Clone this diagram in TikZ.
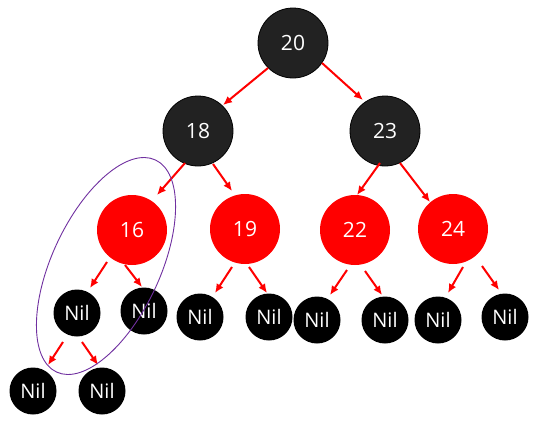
\documentclass[tikz,border=0pt]{standalone}
\usepackage{fontspec}
\setmainfont{Open Sans}
\usetikzlibrary{arrows.meta,calc}
\definecolor{blk}{HTML}{222222}
\definecolor{rd}{HTML}{FF0000}
\definecolor{purp}{HTML}{7030A0}
\tikzset{
  bnode/.style={circle,fill=blk,draw=black,line width=0.8pt,minimum size=70pt,inner sep=0pt,text=white,font=\fontsize{21}{24}\selectfont},
  rnode/.style={circle,fill=rd,minimum size=70pt,inner sep=0pt,text=white,font=\fontsize{21}{24}\selectfont},
  nilnode/.style={circle,fill=black,minimum size=47pt,inner sep=0pt,text=white,font=\fontsize{20}{24}\selectfont},
  arr/.style={draw=rd,line width=2pt,-{Latex[length=9pt,width=8pt]}},
}
\begin{document}
\begin{tikzpicture}[x=1pt,y=-1pt]
\useasboundingbox (0,0) rectangle (537,423);
\node[bnode] (n20) at (293,43) {20};
\node[bnode] (n18) at (198,131) {18};
\node[bnode] (n23) at (385,131) {23};
\node[rnode] (n16) at (132,230) {16};
\node[rnode] (n19) at (245,229) {19};
\node[rnode] (n22) at (355,230) {22};
\node[rnode] (n24) at (453,229) {24};
\node[nilnode] (a1) at (77,313) {Nil};
\node[nilnode] (a2) at (144,311) {Nil};
\node[nilnode] (b1) at (200,317) {Nil};
\node[nilnode] (b2) at (269,317) {Nil};
\node[nilnode] (c1) at (317,320) {Nil};
\node[nilnode] (c2) at (385,320) {Nil};
\node[nilnode] (d1) at (438,320) {Nil};
\node[nilnode] (d2) at (505,317) {Nil};
\node[nilnode] (e1) at (33,391) {Nil};
\node[nilnode] (e2) at (102,391) {Nil};
% edges
\draw[arr] ($(n20)+(-25,25)$) -- ($(n18)+(25,-26)$);
\draw[arr] ($(n20)+(29,20)$) -- ($(n23)+(-22,-31)$);
\draw[arr] ($(n18)+(-13,32)$) -- ($(n16)+(25,-35)$);
\draw[arr] ($(n18)+(15,33)$) -- ($(n19)+(-13,-38)$);
\draw[arr] ($(n23)+(-5,32)$) -- ($(n22)+(2,-35)$);
\draw[arr] ($(n23)+(15,32)$) -- ($(n24)+(-23,-27)$);
\draw[arr] ($(n16)+(-25,32)$) -- ($(a1)+(13,-25)$);
\draw[arr] ($(n16)+(-7,35)$) -- ($(a2)+(-2,-24)$);
\draw[arr] ($(n19)+(-13,38)$) -- ($(b1)+(15,-24)$);
\draw[arr] ($(n19)+(4,38)$) -- ($(b2)+(-2,-24)$);
\draw[arr] ($(n22)+(-8,40)$) -- ($(c1)+(13,-25)$);
\draw[arr] ($(n22)+(10,41)$) -- ($(c2)+(-3,-25)$);
\draw[arr] ($(n24)+(10,38)$) -- ($(d1)+(10,-27)$);
\draw[arr] ($(n24)+(29,37)$) -- ($(d2)+(-6,-27)$);
\draw[arr] ($(a1)+(-14,29)$) -- ($(e1)+(15,-26)$);
\draw[arr] ($(a1)+(5,29)$) -- ($(e2)+(-4,-26)$);
% highlight ellipse
\draw[purp,line width=0.9pt] (106,266) ellipse[x radius=117pt,y radius=54pt,rotate=65];
\end{tikzpicture}
\end{document}
